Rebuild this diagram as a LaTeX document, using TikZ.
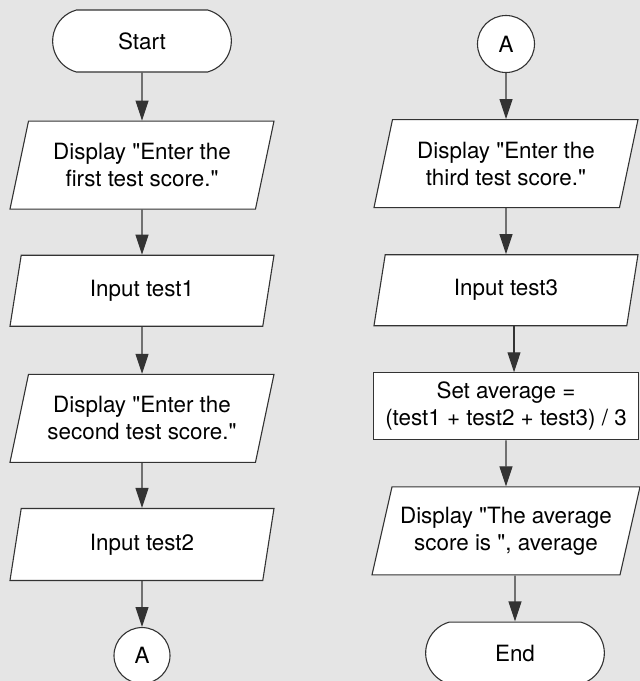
\documentclass[tikz,border=0pt]{standalone}
\usepackage{fontspec}
\setmainfont{TeX Gyre Heros}[Ligatures=TeXOff]
\usetikzlibrary{arrows.meta,positioning,shapes.geometric,shapes.misc}
\tikzset{every picture/.style={
  >={Triangle[length=10pt,width=6.5pt]}   % Filled flowchart arrows.
  }
}

\begin{document}
\begin{tikzpicture}[
    node distance=23pt,
    box/.style={
      draw=black!80,
      line width=0.55pt,
      fill=white,
      align=center,
      font=\fontsize{11.2}{13.5}\selectfont
    },
    term/.style={
      box,
      rounded rectangle,
      rounded rectangle arc length=150,
      minimum width=96pt,
      minimum height=31pt
    },
    io/.style={
      box,
      trapezium,
      trapezium left angle=72,
      trapezium right angle=108,
      trapezium stretches body,
      minimum width=132pt,
      minimum height=35.5pt,
      inner xsep=2pt
    },
    proc/.style={
      box,
      minimum width=132.5pt,
      minimum height=33.5pt,
      inner xsep=1pt
    },
    conn/.style={
      box,
      circle,
      minimum size=28.5pt,
      inner sep=0pt
    },
    flow/.style={->,draw=black!80,line width=0.55pt}]

    % Page background.
    \useasboundingbox (0,0) rectangle (320pt,-340.5pt);
    \fill[black!10] (0,0) rectangle (320pt,-340.5pt);

    % First column: the first two test scores.
    \node[term] (start) at (71pt,-20.5pt) {Start};
    \node[io,below=24pt of start,minimum height=44pt] (askone)
      {Display "Enter the\\first test score."};
    \node[io,below=22.5pt of askone] (inone) {Input test1};
    \node[io,below=23.5pt of inone,minimum height=44pt] (asktwo)
      {Display "Enter the\\second test score."};
    \node[io,below=22.5pt of asktwo,minimum height=36pt] (intwo)
      {Input test2};
    \node[conn,below=23pt of intwo,minimum size=28pt] (outA) {A};

    % Second column: the third score and the average.
    \node[conn] (inA) at (253pt,-22pt) {A};
    \node[io,below=of inA,minimum height=44pt] (askthree)
      {Display "Enter the\\third test score."};
    \node[io,below=of askthree] (inthree) {Input test3};
    \node[proc,below=of inthree] (calc)
      {Set average =\\(test1 + test2 + test3) / 3};
    \node[io,below=of calc,minimum height=44pt,minimum width=134pt] (showavg)
      {Display "The average\\score is ", average};
    \node[term,below=of showavg,xshift=4.5pt] (end) {End};

    % Draw the flow lines.
    \draw[flow] (start) -- (askone);
    \draw[flow] (askone) -- (inone);
    \draw[flow] (inone) -- (asktwo);
    \draw[flow] (asktwo) -- (intwo);
    \draw[flow] (intwo) -- (outA);

    \draw[flow] (inA) -- (askthree);
    \draw[flow] (askthree) -- (inthree);
    \draw[flow] ([xshift=4pt] inthree.south) -- ([xshift=4pt] calc.north);
    \draw[flow] (calc) -- (showavg);
    \draw[flow] (showavg.south -| end) -- (end);

  \end{tikzpicture}
\end{document}
